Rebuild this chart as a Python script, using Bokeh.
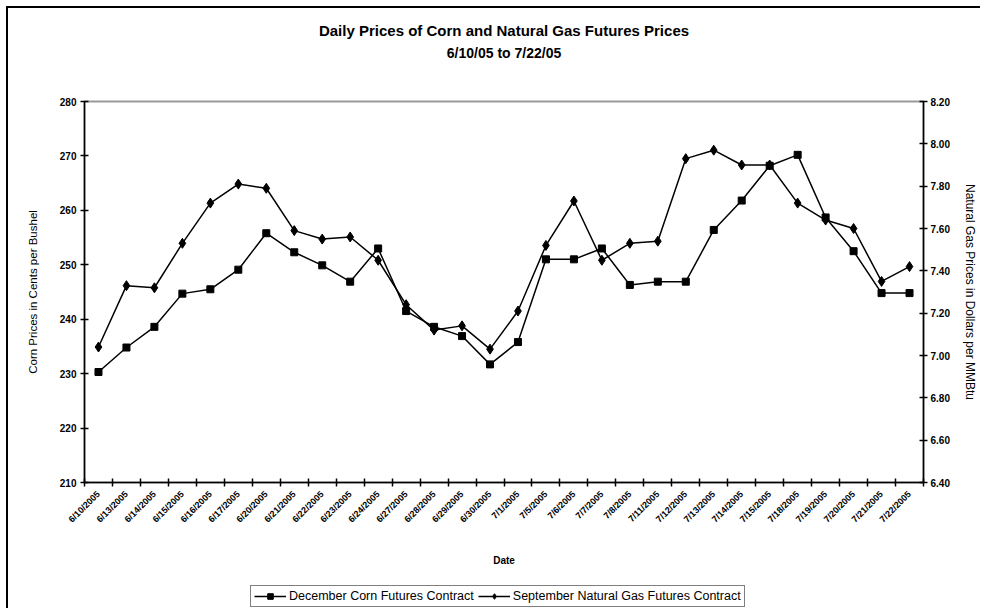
import math
from bokeh.plotting import figure
from bokeh.layouts import column
from bokeh.models import (ColumnDataSource, Range1d, LinearAxis, FixedTicker,
                          NumeralTickFormatter, Legend, LegendItem, Title)
from bokeh.embed import file_html
from bokeh.resources import INLINE

dates = ["6/10/2005", "6/13/2005", "6/14/2005", "6/15/2005", "6/16/2005", "6/17/2005",
         "6/20/2005", "6/21/2005", "6/22/2005", "6/23/2005", "6/24/2005", "6/27/2005",
         "6/28/2005", "6/29/2005", "6/30/2005", "7/1/2005", "7/5/2005", "7/6/2005",
         "7/7/2005", "7/8/2005", "7/11/2005", "7/12/2005", "7/13/2005", "7/14/2005",
         "7/15/2005", "7/18/2005", "7/19/2005", "7/20/2005", "7/21/2005", "7/22/2005"]

corn = [230.3, 234.8, 238.6, 244.7, 245.5, 249.1, 255.8, 252.3, 249.9, 246.9,
        253.0, 241.5, 238.6, 236.9, 231.7, 235.8, 251.0, 251.0, 253.0, 246.3,
        246.9, 246.9, 256.4, 261.8, 268.2, 270.2, 258.7, 252.5, 244.8, 244.8]

gas = [7.04, 7.33, 7.32, 7.53, 7.72, 7.81, 7.79, 7.59, 7.55, 7.56,
       7.45, 7.24, 7.12, 7.14, 7.03, 7.21, 7.52, 7.73, 7.45, 7.53,
       7.54, 7.93, 7.97, 7.90, 7.90, 7.72, 7.64, 7.60, 7.35, 7.42]

corn_ticks = [210, 220, 230, 240, 250, 260, 270, 280]
gas_ticks = [6.40, 6.60, 6.80, 7.00, 7.20, 7.40, 7.60, 7.80, 8.00, 8.20]

title1 = "Daily Prices of Corn and Natural Gas Futures Prices"
title2 = "6/10/05 to 7/22/05"
legend_labels = ["December Corn Futures Contract", "September Natural Gas Futures Contract"]

FONT = "Liberation Sans"

W, H, LH = 972, 574, 26
BL, BR, BT, BB = 76, 57, 93, 100

n = len(dates)
xs = [i + 0.5 for i in range(n)]
src = ColumnDataSource(dict(x=xs, date=dates, corn=corn, gas=gas))

p = figure(width=W, height=H, output_backend="svg", toolbar_location=None,
           x_range=Range1d(0, n), y_range=Range1d(corn_ticks[0], corn_ticks[-1]),
           min_border_left=BL, min_border_right=BR, min_border_top=BT, min_border_bottom=BB,
           background_fill_color="white", border_fill_color="white")
p.extra_y_ranges = {"gas": Range1d(gas_ticks[0], gas_ticks[-1])}
p.xgrid.visible = False
p.ygrid.visible = False
p.outline_line_color = "#9a9a9a"
p.outline_line_width = 2

# Titles: a spacer next to the frame, then subtitle, then main title
p.add_layout(Title(text=" ", text_font_size="1px", standoff=36), "above")
p.add_layout(Title(text=title2, align="center", text_font=FONT, text_font_size="14px",
                   text_font_style="bold", text_color="black", standoff=4), "above")
p.add_layout(Title(text=title1, align="center", text_font=FONT, text_font_size="15px",
                   text_font_style="bold", text_color="black", standoff=3), "above")

# X axis
xa = p.xaxis[0]
xa.ticker = FixedTicker(ticks=xs, minor_ticks=list(range(n + 1)))
xa.major_label_overrides = {x: d for x, d in zip(xs, dates)}
xa.major_label_orientation = math.pi / 4
xa.major_tick_in = 0
xa.major_tick_out = 0
xa.minor_tick_in = 4
xa.minor_tick_out = 4
xa.minor_tick_line_color = "black"
xa.minor_tick_line_width = 1.5
xa.axis_line_color = "black"
xa.axis_line_width = 1.5
xa.major_label_text_font = FONT
xa.major_label_text_font_size = "9px"
xa.major_label_text_font_style = "bold"
xa.major_label_text_color = "black"
xa.major_label_standoff = 6
xa.axis_label = "Date"
xa.axis_label_text_font = FONT
xa.axis_label_text_font_size = "10px"
xa.axis_label_text_font_style = "bold"
xa.axis_label_text_color = "black"
xa.axis_label_standoff = 24

# Left axis
ya = p.yaxis[0]
ya.ticker = FixedTicker(ticks=corn_ticks)
ya.minor_tick_line_color = None
ya.major_tick_in = 4
ya.major_tick_out = 4
ya.major_tick_line_color = "black"
ya.major_tick_line_width = 1.5
ya.axis_line_color = "black"
ya.axis_line_width = 1.5
ya.major_label_text_font = FONT
ya.major_label_text_font_size = "10px"
ya.major_label_text_font_style = "bold"
ya.major_label_text_color = "black"
ya.major_label_standoff = 4
ya.axis_label = "Corn Prices in Cents per Bushel"
ya.axis_label_text_font = FONT
ya.axis_label_text_font_size = "11.5px"
ya.axis_label_text_font_style = "normal"
ya.axis_label_text_color = "black"
ya.axis_label_standoff = 18

# Right axis
ra = LinearAxis(y_range_name="gas", ticker=FixedTicker(ticks=gas_ticks),
                formatter=NumeralTickFormatter(format="0.00"))
ra.minor_tick_line_color = None
ra.major_tick_in = 4
ra.major_tick_out = 4
ra.major_tick_line_color = "black"
ra.major_tick_line_width = 1.5
ra.axis_line_color = "black"
ra.axis_line_width = 1.5
ra.major_label_text_font = FONT
ra.major_label_text_font_size = "10px"
ra.major_label_text_font_style = "bold"
ra.major_label_text_color = "black"
ra.major_label_standoff = 3
ra.axis_label = "Natural Gas Prices in Dollars per MMBtu"
ra.axis_label_text_font = FONT
ra.axis_label_text_font_size = "12px"
ra.axis_label_text_font_style = "normal"
ra.axis_label_text_color = "black"
ra.axis_label_standoff = 10
p.add_layout(ra, "right")

# Series
line_kw = dict(line_color="black", line_width=1.5)
corn_sq = dict(marker="square", size=7, fill_color="black", line_color="black")
gas_dm = dict(marker="diamond", size=10, fill_color="black", line_color="black")
p.line("x", "corn", source=src, **line_kw)
p.scatter("x", "corn", source=src, **corn_sq)
p.line("x", "gas", source=src, y_range_name="gas", **line_kw)
p.scatter("x", "gas", source=src, y_range_name="gas", **gas_dm)

# Legend strip below the chart (same series, view placed away from the data)
q = figure(width=W, height=LH, output_backend="svg", toolbar_location=None,
           x_range=Range1d(-10, -9), y_range=Range1d(0, 1),
           x_axis_type=None, y_axis_type=None, min_border=0,
           background_fill_color="white", border_fill_color="white")
q.outline_line_color = None
q.xgrid.visible = False
q.ygrid.visible = False
qcl = q.line("x", "corn", source=src, **line_kw)
qcs = q.scatter("x", "corn", source=src, **corn_sq)
qgl = q.line("x", "gas", source=src, **line_kw)
qgs = q.scatter("x", "gas", source=src, **gas_dm)
legend = Legend(items=[LegendItem(label=legend_labels[0], renderers=[qcl, qcs]),
                       LegendItem(label=legend_labels[1], renderers=[qgl, qgs])],
                orientation="horizontal", location=(166, 1),
                label_text_font=FONT, label_text_font_size="12.5px", label_text_color="black",
                border_line_color="black", border_line_width=1,
                background_fill_color="white", background_fill_alpha=1,
                padding=3, spacing=4, margin=0, label_standoff=3,
                glyph_width=32, glyph_height=14, label_height=14)
q.add_layout(legend, "center")

layout = column(p, q, spacing=0)
layout.styles = {"border-left": "2px solid black", "border-top": "2px solid black",
                 "margin-left": "6px", "margin-top": "6px"}

open("out.html", "w").write(file_html(layout, INLINE))
